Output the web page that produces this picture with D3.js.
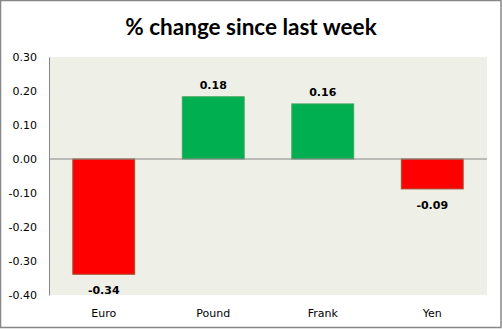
<!DOCTYPE html>
<html><head><meta charset="utf-8">
<script src="https://cdn.jsdelivr.net/npm/d3@7"></script>
<style>html,body{margin:0;padding:0;background:#fff;}svg{display:block;}</style>
</head><body>
<svg id="c" width="502" height="329"></svg>
<script>
const categories = ["Euro", "Pound", "Frank", "Yen"];
const values = [-0.339, 0.183, 0.162, -0.088];
const yTicks = [0.30, 0.20, 0.10, 0.00, -0.10, -0.20, -0.30, -0.40];
const title = "% change since last week";

const W = 502, H = 329;
const m = {left: 49, right: 15, top: 57, bottom: 34};
const svg = d3.select("#c");
const fmt = d => d3.format(".2f")(d).replace("\u2212", "-");

svg.append("rect").attr("x", 0.5).attr("y", 0.5).attr("width", W - 1.5).attr("height", H - 2)
  .attr("fill", "#fff").attr("stroke", "#878787").attr("stroke-width", 1.5);

const x = d3.scaleBand().domain(categories).range([m.left, W - m.right]).paddingInner(0.435).paddingOuter(0.2175);
const y = d3.scaleLinear().domain([-0.4, 0.3]).range([H - m.bottom, m.top]);

svg.append("rect").attr("x", m.left).attr("y", m.top).attr("width", W - m.right - m.left)
  .attr("height", H - m.bottom - m.top).attr("fill", "#EEF0E8");

svg.append("text").attr("x", 251).attr("y", 35).attr("text-anchor", "middle")
  .attr("font-family", "Lato, 'Open Sans', sans-serif").attr("font-weight", "bold")
  .attr("font-size", 22.5).attr("fill", "#000").text(title);

const yAxis = d3.axisLeft(y).tickValues(yTicks).tickSize(0).tickPadding(12).tickFormat(fmt);
const ga = svg.append("g").attr("transform", `translate(${m.left},0)`).call(yAxis);
ga.select(".domain").attr("stroke", "#868686");
ga.selectAll("text").attr("font-family", "'DejaVu Sans', Verdana, sans-serif").attr("font-size", 11).attr("fill", "#000");

svg.selectAll("rect.bar").data(values).join("rect").attr("class", "bar")
  .attr("x", (d, i) => x(categories[i]))
  .attr("y", d => y(Math.max(0, d)))
  .attr("width", x.bandwidth())
  .attr("height", d => Math.abs(y(d) - y(0)))
  .attr("fill", d => d < 0 ? "#FF0000" : "#00B050")
  .attr("stroke", d => d < 0 ? "#A0522D" : "#3CA55C").attr("stroke-width", 1);

svg.append("line").attr("x1", m.left).attr("x2", W - m.right).attr("y1", y(0)).attr("y2", y(0))
  .attr("stroke", "#868686").attr("stroke-width", 1);

svg.selectAll("text.lbl").data(values).join("text").attr("class", "lbl")
  .attr("x", (d, i) => x(categories[i]) + x.bandwidth() / 2)
  .attr("y", d => d < 0 ? y(d) + 20 : y(d) - 8)
  .attr("text-anchor", "middle").attr("font-family", "'DejaVu Sans', Verdana, sans-serif")
  .attr("font-weight", "bold").attr("font-size", 11).attr("fill", "#000")
  .text(d => fmt(d));

const xAxis = d3.axisBottom(x).tickSize(0).tickPadding(0);
const gx = svg.append("g").attr("transform", `translate(0,${H - m.bottom + 14})`).call(xAxis);
gx.select(".domain").remove();
gx.selectAll("text").attr("font-family", "'DejaVu Sans', Verdana, sans-serif").attr("font-size", 11).attr("fill", "#000");
</script>
</body></html>
